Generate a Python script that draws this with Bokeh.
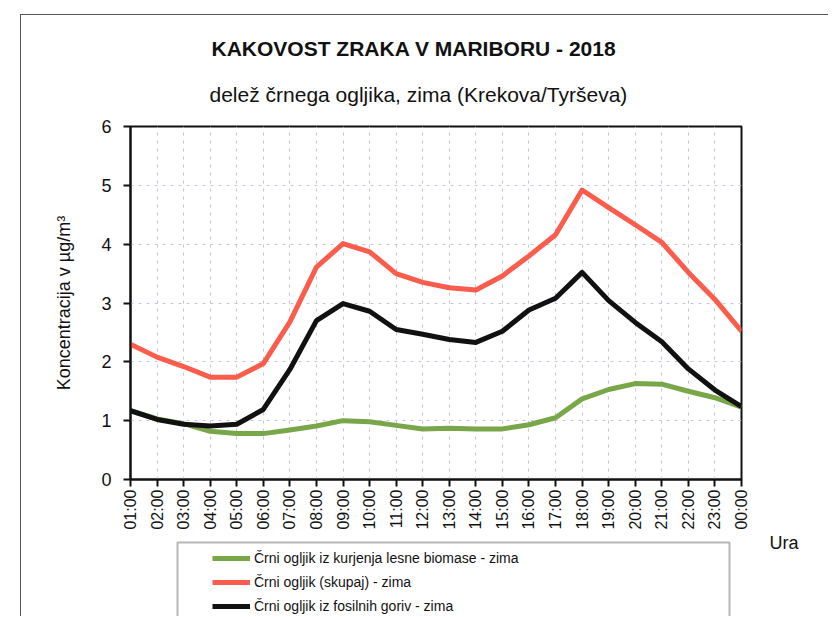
from bokeh.plotting import figure
from bokeh.layouts import column
from bokeh.models import (ColumnDataSource, FixedTicker, Legend, LegendItem,
                          Title, Range1d, BoxAnnotation)
from bokeh.embed import file_html
from bokeh.resources import INLINE

hours = ["01:00", "02:00", "03:00", "04:00", "05:00", "06:00", "07:00", "08:00",
         "09:00", "10:00", "11:00", "12:00", "13:00", "14:00", "15:00", "16:00",
         "17:00", "18:00", "19:00", "20:00", "21:00", "22:00", "23:00", "00:00"]
biomass = [1.17, 1.03, 0.95, 0.82, 0.78, 0.78, 0.84, 0.91, 1.00, 0.98, 0.92, 0.86,
           0.87, 0.86, 0.86, 0.93, 1.05, 1.37, 1.53, 1.63, 1.62, 1.50, 1.39, 1.23]
total = [2.30, 2.08, 1.92, 1.74, 1.74, 1.97, 2.68, 3.61, 4.01, 3.87, 3.50, 3.35,
         3.26, 3.22, 3.46, 3.80, 4.16, 4.92, 4.62, 4.33, 4.03, 3.52, 3.06, 2.52]
fossil = [1.17, 1.02, 0.94, 0.91, 0.94, 1.19, 1.87, 2.70, 2.99, 2.86, 2.55, 2.47,
          2.38, 2.33, 2.52, 2.88, 3.08, 3.52, 3.04, 2.67, 2.34, 1.88, 1.52, 1.24]
y_ticks = [0, 1, 2, 3, 4, 5, 6]

labels = ["Črni ogljik iz kurjenja lesne biomase - zima",
          "Črni ogljik (skupaj) - zima",
          "Črni ogljik iz fosilnih goriv - zima"]
colors = ["#7aa64a", "#fb5c4b", "#111111"]

FONT = "Liberation Sans"
INK = "#111111"

idx = list(range(len(hours)))
src = ColumnDataSource(dict(x=idx, bio=biomass, tot=total, fos=fossil))

FW, FH = 611, 353
BL, BR = 109, 87
p = figure(frame_width=FW, frame_height=FH, output_backend="svg",
           toolbar_location=None,
           x_range=Range1d(0, len(hours) - 1), y_range=Range1d(0, 6),
           min_border_left=BL, min_border_top=111, min_border_right=BR,
           min_border_bottom=0)

p.background_fill_color = "white"
p.border_fill_color = "white"
p.outline_line_color = INK
p.outline_line_width = 2

# axes
p.xaxis.ticker = FixedTicker(ticks=idx)
p.xaxis.major_label_overrides = {i: h for i, h in zip(idx, hours)}
p.xaxis.major_label_orientation = 1.5708
p.xaxis.major_label_text_font = FONT
p.xaxis.major_label_text_font_size = "16px"
p.xaxis.major_label_text_color = INK
p.xaxis.major_label_standoff = 3
p.yaxis.ticker = FixedTicker(ticks=y_ticks)
p.yaxis.major_label_text_font = FONT
p.yaxis.major_label_text_font_size = "18px"
p.yaxis.major_label_text_color = INK
p.yaxis.major_label_standoff = 12
p.yaxis.axis_label = "Koncentracija v µg/m³"
p.yaxis.axis_label_text_font = FONT
p.yaxis.axis_label_text_font_size = "18px"
p.yaxis.axis_label_text_font_style = "normal"
p.yaxis.axis_label_text_color = INK
p.yaxis.axis_label_standoff = 24
for ax in (p.xaxis, p.yaxis):
    ax.axis_line_color = INK
    ax.axis_line_width = 2
    ax.major_tick_line_color = INK
    ax.major_tick_line_width = 2
    ax.major_tick_out = 7
    ax.major_tick_in = 0
    ax.minor_tick_line_color = None

p.xgrid.ticker = FixedTicker(ticks=idx)
p.ygrid.ticker = FixedTicker(ticks=y_ticks)
for g in (p.xgrid, p.ygrid):
    g.grid_line_color = "#c4c6dc"
    g.grid_line_dash = "3 5"
    g.grid_line_width = 1

series = [("bio", colors[0]), ("tot", colors[1]), ("fos", colors[2])]
for col, c in series:
    p.line("x", col, source=src, line_color=c, line_width=5, line_join="round")

# titles (subtitle first = closest to the frame)
p.add_layout(Title(text="delež črnega ogljika, zima (Krekova/Tyrševa)",
                   align="left", offset=79, standoff=42,
                   text_font=FONT, text_font_size="21px",
                   text_font_style="normal", text_color=INK), "above")
p.add_layout(Title(text="KAKOVOST ZRAKA V MARIBORU - 2018",
                   align="left", offset=81, standoff=0,
                   text_font=FONT, text_font_size="21px",
                   text_font_style="bold", text_color=INK), "above")
# "Ura" to the right of the x axis
p.add_layout(Title(text="Ura", align="right", offset=-57, standoff=0,
                   vertical_align="top",
                   text_font=FONT, text_font_size="18px",
                   text_font_style="normal", text_color=INK), "below")

# lower strip: legend box
H2 = 76
q = figure(width=BL + FW + BR, height=H2, output_backend="svg",
           toolbar_location=None,
           x_range=Range1d(0, FW), y_range=Range1d(0, H2),
           x_axis_location=None, y_axis_location=None,
           min_border=0, min_border_left=0, min_border_right=0,
           min_border_top=0, min_border_bottom=0)
q.margin = (-14, 0, 0, 0)
q.outline_line_color = None
q.xgrid.visible = False
q.ygrid.visible = False
q.background_fill_alpha = 0
q.border_fill_alpha = 0

q.add_layout(BoxAnnotation(left=47, right=599, bottom=-20, top=H2 - 2,
                           fill_color="white", fill_alpha=1,
                           line_color=INK, line_width=2, level="underlay"))

items = []
for (col, c), lab in zip(series, labels):
    r = q.line(x=[idx[0]], y=[src.data[col][0]], line_color=c, line_width=5)
    items.append(LegendItem(label=lab, renderers=[r]))

leg = Legend(items=items, location=(82, 0), padding=4, spacing=4,
             glyph_width=38, glyph_height=20, label_standoff=4,
             label_height=20,
             label_text_font=FONT, label_text_font_size="14px",
             label_text_color=INK,
             border_line_color=None, background_fill_alpha=0, margin=0)
q.add_layout(leg, "center")

layout = column(p, q, spacing=0)
layout.margin = (14, 0, 0, 20)
layout.styles = {"border-left": "1px solid #555", "border-top": "1px solid #555"}

open("out.html", "w").write(file_html(layout, INLINE))
